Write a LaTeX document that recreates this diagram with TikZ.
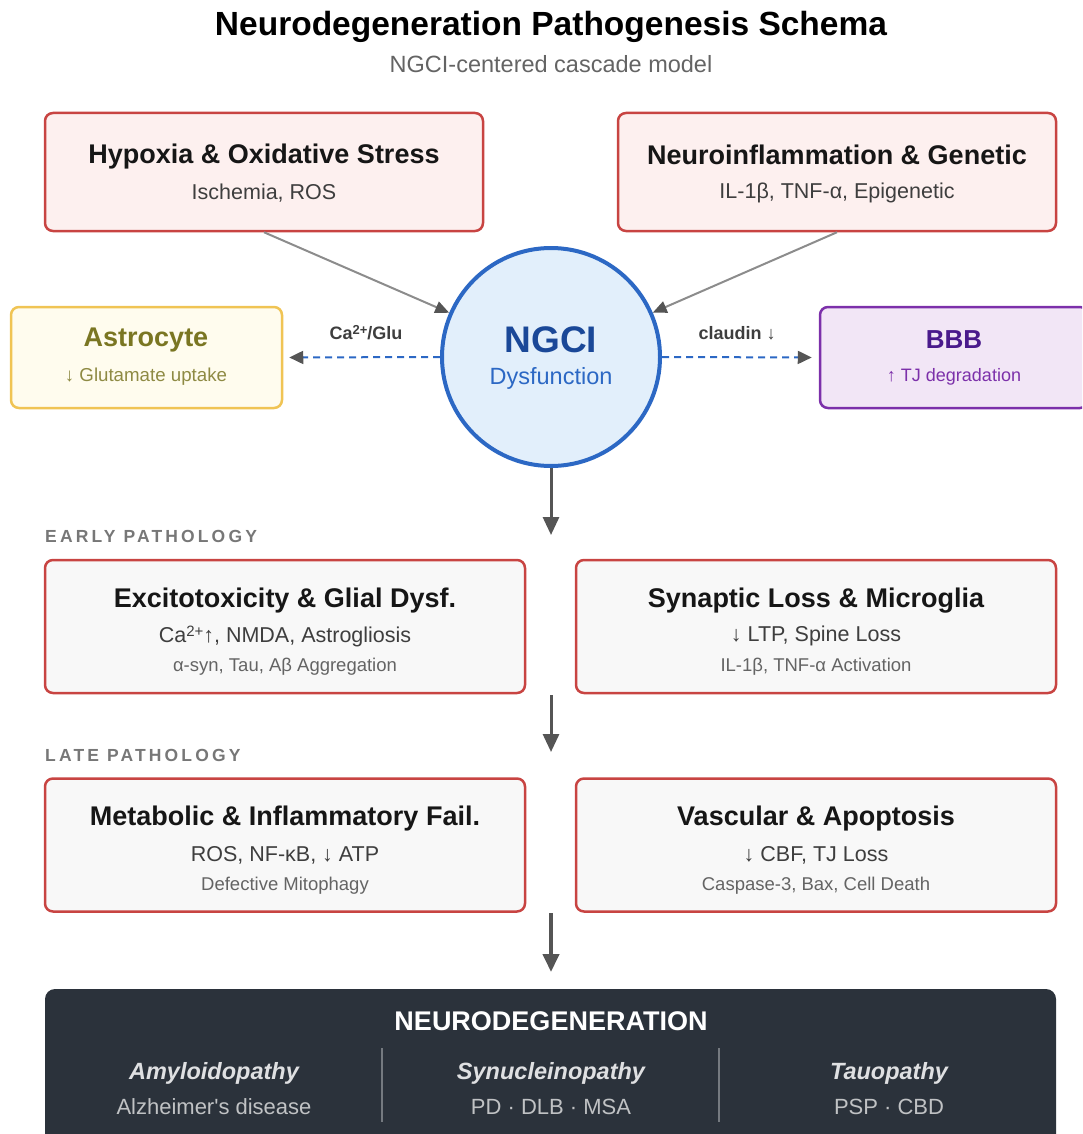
\documentclass[tikz,border=0pt]{standalone}
\usepackage{fontspec}
\setmainfont{Liberation Sans}
\newfontfamily\spacedfont[LetterSpace=18]{Liberation Sans}
\usetikzlibrary{arrows.meta,positioning}

\definecolor{inkdark}{RGB}{22,22,22}
\definecolor{inkmid}{RGB}{62,62,62}
\definecolor{inklight}{RGB}{100,100,100}
\definecolor{boxred}{RGB}{200,68,66}
\definecolor{causefill}{RGB}{253,240,239}
\definecolor{stagefill}{RGB}{248,248,248}
\definecolor{ngcifill}{RGB}{226,239,251}
\definecolor{ngciline}{RGB}{44,104,196}
\definecolor{ngcitext}{RGB}{26,72,152}
\definecolor{astroline}{RGB}{240,196,84}
\definecolor{astrofill}{RGB}{255,252,238}
\definecolor{astrotext}{RGB}{122,118,34}
\definecolor{bbbline}{RGB}{124,48,170}
\definecolor{bbbfill}{RGB}{242,230,246}
\definecolor{bbbtext}{RGB}{74,26,140}
\definecolor{darkbox}{RGB}{43,50,59}
\definecolor{arrowgray}{RGB}{85,85,85}
\definecolor{linkgray}{RGB}{140,140,140}

\begin{document}
\begin{tikzpicture}[x=1pt, y=-1pt,
    causebox/.style={draw=boxred, fill=causefill, line width=2.5pt, rounded corners=8pt,
      minimum width=438pt, minimum height=118pt},
    stagebox/.style={draw=boxred, fill=stagefill, line width=2.5pt, rounded corners=8pt,
      minimum width=480pt, minimum height=133pt},
    headtxt/.style={text=inkdark, font=\fontsize{27}{31}\selectfont\bfseries},
    subtxt/.style={text=inkmid, font=\fontsize{21.5}{25}\selectfont},
    notetxt/.style={text=inklight, font=\fontsize{18.5}{22}\selectfont},
    stagelabel/.style={anchor=west, text=linkgray!85!black, inner sep=0pt,
      font=\fontsize{17.5}{21}\spacedfont\bfseries},
    flow/.style={-{Triangle[length=18pt,width=16pt]}, arrowgray, line width=3pt},
    sidelink/.style={-{Triangle[length=14pt,width=13pt,color=arrowgray]}, ngciline, line width=2pt,
      dash pattern=on 7pt off 5pt},
    causelink/.style={-{Triangle[length=14pt,width=12pt,color=arrowgray]}, linkgray, line width=2pt},
    linklabel/.style={text=inkmid, font=\fontsize{18}{21}\selectfont\bfseries}]

    % Frame
    \useasboundingbox (0,0) rectangle (1082,1134);
    \clip (0,0) rectangle (1082,1134);

    % Title
    \node[text=black, font=\fontsize{33.5}{40}\selectfont\bfseries] (title) at (551,27)
      {Neurodegeneration Pathogenesis Schema};
    \node[text=inklight, font=\fontsize{23.5}{28}\selectfont] (subtitle) at (551,64)
      {NGCI-centered cascade model};

    % Upstream causes
    \node[causebox] (hyp) at (264,172) {};
    \node[headtxt] (hyp-t) at (264,157) {Hypoxia \& Oxidative Stress};
    \node[subtxt] (hyp-s) at (264,193) {Ischemia, ROS};

    \node[causebox] (inf) at (837,172) {};
    \node[headtxt] (inf-t) at (837,155) {Neuroinflammation \& Genetic};
    \node[subtxt] (inf-s) at (837,193) {IL-1β, TNF-α, Epigenetic};

    % NGCI
    \node[circle, draw=ngciline, fill=ngcifill, line width=4pt, minimum size=218pt] (ngci) at (551,357) {};
    \node[text=ngcitext, font=\fontsize{37}{42}\selectfont\bfseries] (ngci-t) at (551,340) {NGCI};
    \node[text=ngciline, font=\fontsize{23.5}{28}\selectfont] (ngci-s) at (551,378) {Dysfunction};

    % Side partners
    \node[draw=astroline, fill=astrofill, line width=2.5pt, rounded corners=8pt,
      minimum width=271pt, minimum height=101pt] (astro) at (146.5,357.5) {};
    \node[text=astrotext, font=\fontsize{27}{31}\selectfont\bfseries] (astro-t) at (146,340) {Astrocyte};
    \node[text=astrotext!85!white, font=\fontsize{18.7}{22}\selectfont] (astro-s) at (146,377) {↓ Glutamate uptake};

    \node[draw=bbbline, fill=bbbfill, line width=2.5pt, rounded corners=8pt,
      minimum width=268pt, minimum height=101pt] (bbb) at (954,357.5) {};
    \node[text=bbbtext, font=\fontsize{26}{30}\selectfont\bfseries] (bbb-t) at (954,340) {BBB};
    \node[text=bbbline, font=\fontsize{18}{22}\selectfont] (bbb-s) at (954,377) {↑ TJ degradation};

    % Links around NGCI
    \draw[causelink] (hyp.south) -- (ngci);
    \draw[causelink] (inf.south) -- (ngci);
    \draw[sidelink, shorten >=6pt] (ngci.west) -- (astro.east);
    \draw[sidelink, shorten >=7pt] (ngci.east) -- (bbb.west);
    \node[linklabel] (glu) at (366,333) {Ca{\fontsize{13}{15}\selectfont\raisebox{5pt}{2+}}/Glu};
    \node[linklabel] (claudin) at (737,333) {claudin ↓};

    % Early pathology
    \coordinate (early-in) at (551,535);
    \draw[flow] (ngci.south) -- (early-in);
    \node[stagelabel] (early) at (45,536) {EARLY PATHOLOGY};

    \node[stagebox] (exc) at (285,626.5) {};
    \node[headtxt] (exc-t) at (285,601) {Excitotoxicity \& Glial Dysf.};
    \node[subtxt] (exc-s) at (285,636) {Ca{\fontsize{15}{17}\selectfont\raisebox{6pt}{2+}}↑, NMDA, Astrogliosis};
    \node[notetxt] (exc-n) at (285,667) {α-syn, Tau, Aβ Aggregation};

    \node[stagebox] (syn) at (816,626.5) {};
    \node[headtxt] (syn-t) at (816,601) {Synaptic Loss \& Microglia};
    \node[subtxt] (syn-s) at (816,636) {↓ LTP, Spine Loss};
    \node[notetxt] (syn-n) at (816,667) {IL-1β, TNF-α Activation};

    % Late pathology
    \coordinate (early-out) at (551,695);
    \coordinate (late-in) at (551,752);
    \draw[flow] (early-out) -- (late-in);
    \node[stagelabel] (late) at (45,755) {LATE PATHOLOGY};

    \node[stagebox] (met) at (285,845) {};
    \node[headtxt] (met-t) at (285,819) {Metabolic \& Inflammatory Fail.};
    \node[subtxt] (met-s) at (285,855) {ROS, NF-κB, ↓ ATP};
    \node[notetxt] (met-n) at (285,886) {Defective Mitophagy};

    \node[stagebox] (vas) at (816,845) {};
    \node[headtxt] (vas-t) at (816,819) {Vascular \& Apoptosis};
    \node[subtxt] (vas-s) at (816,855) {↓ CBF, TJ Loss};
    \node[notetxt] (vas-n) at (816,886) {Caspase-3, Bax, Cell Death};

    % Outcome
    \coordinate (late-out) at (551,913);
    \coordinate (outcome-in) at (551,972);
    \draw[flow, line width=4pt] (late-out) -- (outcome-in);

    \node[fill=darkbox, rounded corners=10pt, minimum width=1011pt, minimum height=170pt] (nd) at (550.5,1074) {};
    \node[text=white, font=\fontsize{27}{31}\selectfont\bfseries] (nd-t) at (551,1021) {NEURODEGENERATION};
    \node[text=white!85!darkbox, font=\fontsize{23.5}{28}\selectfont\bfseries\itshape] (amy) at (214,1073) {Amyloidopathy};
    \node[text=white!70!darkbox, font=\fontsize{22}{26}\selectfont] (amy-s) at (214,1107) {Alzheimer\textquotesingle s disease};
    \node[text=white!85!darkbox, font=\fontsize{23.5}{28}\selectfont\bfseries\itshape] (synu) at (551,1073) {Synucleinopathy};
    \node[text=white!70!darkbox, font=\fontsize{22}{26}\selectfont] (synu-s) at (551,1107) {PD · DLB · MSA};
    \node[text=white!85!darkbox, font=\fontsize{23.5}{28}\selectfont\bfseries\itshape] (tau) at (889,1073) {Tauopathy};
    \node[text=white!70!darkbox, font=\fontsize{22}{26}\selectfont] (tau-s) at (889,1107) {PSP · CBD};
    \draw[white!35!darkbox, line width=1.5pt] (382,1048) -- (382,1122) (719,1048) -- (719,1122);

\end{tikzpicture}
\end{document}
